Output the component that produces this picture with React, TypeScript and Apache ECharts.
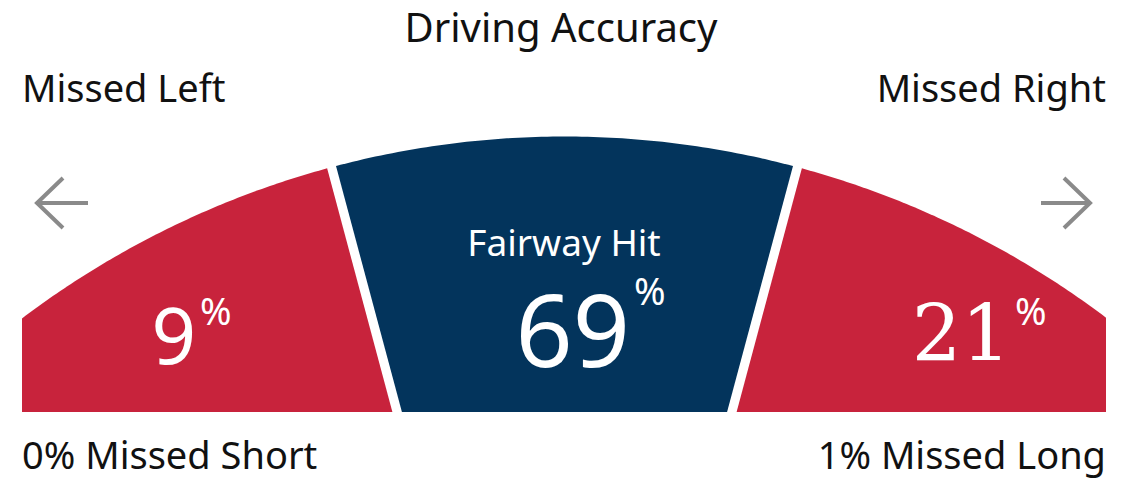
import React, { useEffect, useRef } from "react";
import * as echarts from "echarts";

// ---------- data ----------
const chartTitle = "Driving Accuracy";
const segmentNames = ["Missed Left", "Fairway Hit", "Missed Right"];
const segmentValues = [9, 69, 21];
const footNames = ["Missed Short", "Missed Long"];
const footValues = [0, 1];

// ---------- style / layout ----------
const W = 1132;
const H = 481;
const RED = "#C8233C";
const NAVY = "#03345C";
const segmentColors = [RED, NAVY, RED];
const SANS = "'Noto Sans', 'Open Sans', sans-serif";
const SERIF = "'DejaVu Serif', serif";
const CX = 564.5;
const CY = 1036.5;
const R = 900;
const BASE_Y = 412;
const LEFT_X = 22;
const RIGHT_X = 1106;
const DIV = (15 * Math.PI) / 180;
const HALF_GAP = 4.6;

type Bound = { kind: "edge"; x: number } | { kind: "div"; t: number; off: number };
const segBounds: [Bound, Bound][] = [
  [{ kind: "edge", x: LEFT_X }, { kind: "div", t: -DIV, off: -HALF_GAP }],
  [{ kind: "div", t: -DIV, off: HALF_GAP }, { kind: "div", t: DIV, off: -HALF_GAP }],
  [{ kind: "div", t: DIV, off: HALF_GAP }, { kind: "edge", x: RIGHT_X }],
];
// number text anchors: right edge of number, vertical centre of digits
const numLayout = [
  { x: 196, y: 334, size: 78, family: SANS, pctY: 310 },
  { x: 630, y: 328, size: 100, family: SANS, pctY: 290 },
  { x: 1011, y: 334, size: 78, family: SERIF, pctY: 310 },
];
const nameInside = { x: 564, y: 241, size: 37 };

function arcAngle(b: Bound) {
  if (b.kind === "edge") return Math.asin((b.x - CX) / R);
  return b.t + Math.asin(b.off / R);
}
function basePoint(b: Bound): number[] {
  if (b.kind === "edge") return [b.x, BASE_Y];
  const s = (CY + b.off * Math.sin(b.t) - BASE_Y) / Math.cos(b.t);
  return [CX + s * Math.sin(b.t) + b.off * Math.cos(b.t), BASE_Y];
}
function segmentPolygon(i: number): number[][] {
  const [lb, rb] = segBounds[i];
  const a0 = arcAngle(lb);
  const a1 = arcAngle(rb);
  const pts: number[][] = [basePoint(lb)];
  const n = 80;
  for (let k = 0; k <= n; k++) {
    const a = a0 + ((a1 - a0) * k) / n;
    pts.push([CX + R * Math.sin(a), CY - R * Math.cos(a)]);
  }
  pts.push(basePoint(rb));
  return pts;
}

function arrow(dir: number, x0: number, x1: number, y: number) {
  const tip = dir < 0 ? x0 : x1;
  const back = tip - dir * 26;
  const st = { stroke: "#8A8A8A", lineWidth: 4, fill: "none" };
  return [
    { type: "line", shape: { x1: x0, y1: y, x2: x1, y2: y }, style: st },
    {
      type: "polyline",
      shape: { points: [[back, y - 25], [tip, y], [back, y + 25]] },
      style: st,
    },
  ];
}

export default function App() {
  const ref = useRef<HTMLDivElement>(null);
  useEffect(() => {
    if (!ref.current) return;
    const chart = echarts.init(ref.current, null, { renderer: "svg" });
    const labelStyle = (text: string, x: number, y: number, align: string, size = 36) => ({
      type: "text",
      style: {
        text,
        x,
        y,
        fill: "#111",
        fontSize: size,
        lineHeight: size,
        fontFamily: SANS,
        align,
        verticalAlign: "middle",
      },
    });
    chart.setOption({
      animation: false,
      backgroundColor: "#fff",
      graphic: [
        labelStyle(chartTitle, 561, 26, "center", 40),
        labelStyle(segmentNames[0], LEFT_X, 87, "left", 38),
        labelStyle(segmentNames[2], RIGHT_X, 87, "right", 38),
        labelStyle(`${footValues[0]}% ${footNames[0]}`, LEFT_X, 454, "left", 38),
        labelStyle(`${footValues[1]}% ${footNames[1]}`, RIGHT_X, 454, "right", 38),
        ...arrow(-1, 37, 88, 203),
        ...arrow(1, 1041, 1090, 203),
      ],
      series: [
        {
          type: "custom",
          coordinateSystem: "none",
          silent: true,
          data: segmentValues.map((v, i) => [i, v]),
          renderItem: (params: any, api: any) => {
            const i = api.value(0) as number;
            const v = api.value(1) as number;
            const L = numLayout[i];
            const children: any[] = [
              {
                type: "polygon",
                shape: { points: segmentPolygon(i) },
                style: { fill: segmentColors[i] },
              },
              {
                type: "text",
                style: {
                  text: String(v),
                  x: L.x,
                  y: L.y,
                  fill: "#fff",
                  fontSize: L.size,
                  lineHeight: Math.round(L.size * 0.75),
                  fontFamily: L.family,
                  align: "right",
                  verticalAlign: "middle",
                },
              },
              {
                type: "text",
                style: {
                  text: "%",
                  x: L.x + 4,
                  y: L.pctY,
                  fill: "#fff",
                  fontSize: 38,
                  lineHeight: 30,
                  fontFamily: SANS,
                  align: "left",
                  verticalAlign: "middle",
                },
              },
            ];
            if (i === 1) {
              children.push({
                type: "text",
                style: {
                  text: segmentNames[i],
                  x: nameInside.x,
                  y: nameInside.y,
                  fill: "#fff",
                  fontSize: nameInside.size,
                  lineHeight: 30,
                  fontFamily: SANS,
                  align: "center",
                  verticalAlign: "middle",
                },
              });
            }
            return { type: "group", children };
          },
        },
      ],
    });
    return () => chart.dispose();
  }, []);
  return (
    <div
      ref={ref}
      style={{ position: "fixed", left: 0, top: 0, width: W, height: H, background: "#fff" }}
    />
  );
}
